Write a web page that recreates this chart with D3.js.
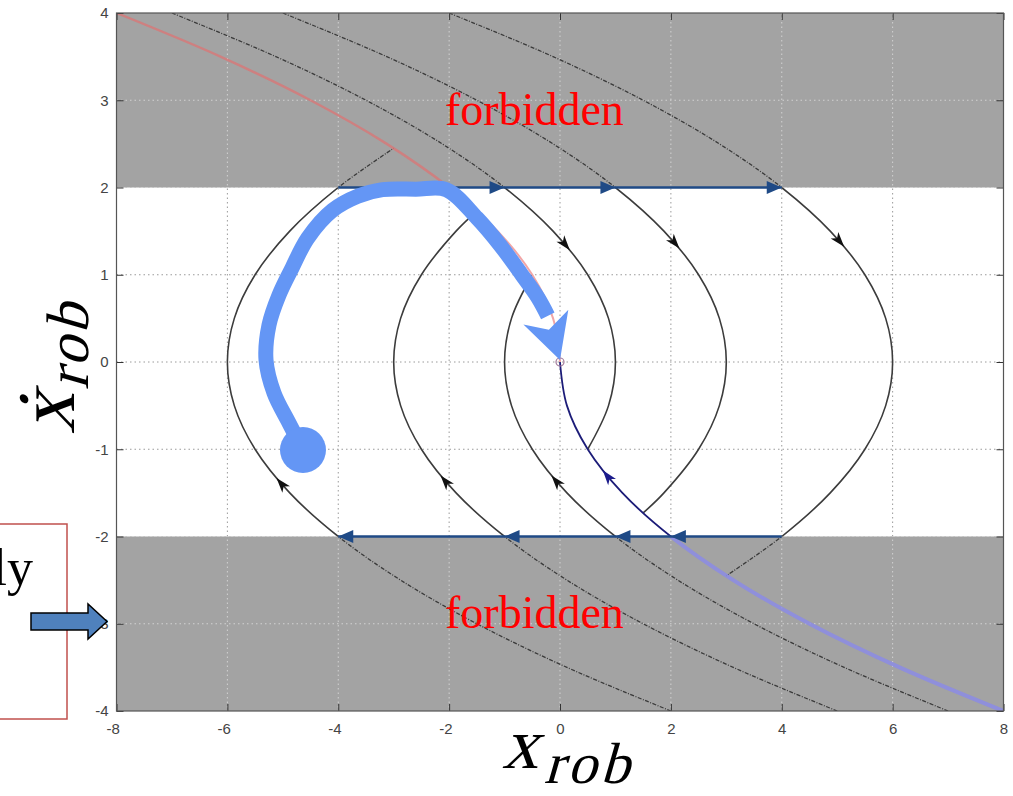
<!DOCTYPE html>
<html><head><meta charset="utf-8">
<script src="https://cdn.jsdelivr.net/npm/d3@7"></script>
<style>body{margin:0;background:#fff;} svg{display:block}</style>
</head><body>
<svg id="c" width="1013" height="796"></svg>
<script>
// ---- axes / ticks ----
const X_TICKS = [-8,-6,-4,-2,0,2,4,6,8];
const Y_TICKS = [-4,-3,-2,-1,0,1,2,3,4];
const FORBIDDEN_BANDS = [[2,4],[-4,-2]];
const ALLOWED_BAND = [-2,2];

// ---- phase trajectories [x, xdot] ----
// decelerating arcs (vertex on the right)
const DEC_1 = [[-7,4],[-5.125,3.5],[-3.5,3],[-2.125,2.5],[-1,2],[-0.125,1.5],[0.5,1],[0.875,0.5],[1,0],[0.875,-0.5],[0.5,-1]];
const DEC_3 = [[-5,4],[-3.125,3.5],[-1.5,3],[-0.125,2.5],[1,2],[1.875,1.5],[2.5,1],[2.875,0.5],[3,0],[2.875,-0.5],[2.5,-1],[1.875,-1.5],[1.5,-1.73]];
const DEC_6 = [[-2,4],[-0.125,3.5],[1.5,3],[2.875,2.5],[4,2],[4.875,1.5],[5.5,1],[5.875,0.5],[6,0],[5.875,-0.5],[5.5,-1],[4.875,-1.5],[4,-2],[3,-2.45]];
// accelerating arcs (vertex on the left)
const ACC_1 = [[7,-4],[5.125,-3.5],[3.5,-3],[2.125,-2.5],[1,-2],[0.125,-1.5],[-0.5,-1],[-0.875,-0.5],[-1,0],[-0.875,0.5],[-0.5,1]];
const ACC_3 = [[5,-4],[3.125,-3.5],[1.5,-3],[0.125,-2.5],[-1,-2],[-1.875,-1.5],[-2.5,-1],[-2.875,-0.5],[-3,0],[-2.875,0.5],[-2.5,1],[-1.875,1.5],[-1.5,1.73]];
const ACC_6 = [[2,-4],[0.125,-3.5],[-1.5,-3],[-2.875,-2.5],[-4,-2],[-4.875,-1.5],[-5.5,-1],[-5.875,-0.5],[-6,0],[-5.875,0.5],[-5.5,1],[-4.875,1.5],[-4,2],[-3,2.45]];
// switching curves
const SWITCH_RED = [[-8,4],[-6.125,3.5],[-4.5,3],[-3.125,2.5],[-2,2],[-1.125,1.5],[-0.5,1],[-0.125,0.5],[0,0]];
const SWITCH_BLUE = [[8,-4],[6.125,-3.5],[4.5,-3],[3.125,-2.5],[2,-2],[1.125,-1.5],[0.5,-1],[0.125,-0.5],[0,0]];

// arrow positions on the trajectories (xdot of arrow tip)
const CURVE_ARROWS = [["DEC_1",1.28],["DEC_3",1.3],["DEC_6",1.32],["ACC_1",-1.3],["ACC_3",-1.3],["ACC_6",-1.33],["SWITCH_BLUE",-1.24]];

// saturated-velocity segments and arrow tips on them
const TOP_LINE = [-4, 4], TOP_ARROWS = [-2, -1, 1, 4];
const BOT_LINE = [4, -4], BOT_ARROWS = [2, 1, -1, -4];

// highlighted trajectory (big blue arrow) and its head
const BIG_PATH = [[-4.636,-1.009],[-4.888,-0.699],[-5.159,-0.355],[-5.303,0.023],[-5.249,0.424],[-5.068,0.768],[-4.834,1.077],[-4.55,1.42],[-4.10,1.74],[-3.65,1.90],[-3.2,1.975],[-2.6,1.98],[-2.05,1.975],[-1.497,1.650],[-1.082,1.341],[-0.685,0.997],[-0.40,0.74],[-0.22,0.53]];
const BIG_HEAD = [[0,0.023],[-0.66,0.43],[-0.20,0.37],[0.15,0.60]];

const LABEL_FORBIDDEN = "forbidden";
const BOX_TEXT = "ly";

// ---------------------------------------------------------
const svg = d3.select('#c');
const x = d3.scaleLinear().domain([-8,8]).range([116.5,1003.5]);
const y = d3.scaleLinear().domain([-4,4]).range([711,13]);
const W = x(8)-x(-8);

const defs = svg.append('defs');
defs.append('clipPath').attr('id','cw').append('rect')
  .attr('x',x(-8)).attr('y',y(ALLOWED_BAND[1])).attr('width',W).attr('height',y(ALLOWED_BAND[0])-y(ALLOWED_BAND[1]));
const cg = defs.append('clipPath').attr('id','cg');
FORBIDDEN_BANDS.forEach(b=>cg.append('rect').attr('x',x(-8)).attr('y',y(b[1])).attr('width',W).attr('height',y(b[0])-y(b[1])));

// background bands
svg.append('rect').attr('x',x(-8)).attr('y',y(4)).attr('width',W).attr('height',y(-4)-y(4)).attr('fill','#fff');
FORBIDDEN_BANDS.forEach(b=>svg.append('rect').attr('x',x(-8)).attr('y',y(b[1])).attr('width',W).attr('height',y(b[0])-y(b[1])).attr('fill','#a3a3a3'));

// grid
function grid(clip, color){
  const g = svg.append('g').attr('clip-path',`url(#${clip})`).attr('stroke',color).attr('stroke-width',1).attr('stroke-dasharray','1.5,3');
  X_TICKS.slice(1,-1).forEach(t=>g.append('line').attr('x1',x(t)).attr('x2',x(t)).attr('y1',y(4)).attr('y2',y(-4)));
  Y_TICKS.slice(1,-1).forEach(t=>g.append('line').attr('y1',y(t)).attr('y2',y(t)).attr('x1',x(-8)).attr('x2',x(8)));
}
grid('cw','#9a9a9a');
grid('cg','#d2d2d2');

// curves
const line = d3.line().x(d=>x(d[0])).y(d=>y(d[1])).curve(d3.curveCatmullRom.alpha(0.5));
const CURVES = {DEC_1, DEC_3, DEC_6, ACC_1, ACC_3, ACC_6, SWITCH_RED, SWITCH_BLUE};
const styleW = {black:{s:'#3c3c3c',w:1.6}, red:{s:'#f2a6a6',w:2}, blue:{s:'#1c1c78',w:1.8}};
const styleG = {black:{s:'#3a3a3a',w:1.3,d:'4,1.5,1,1.5'}, red:{s:'#e07070',w:2.4,o:0.7}, blue:{s:'#8a8ae8',w:4,o:0.8}};
const kindOf = n => n==='SWITCH_RED'?'red':(n==='SWITCH_BLUE'?'blue':'black');
const pathNodes = {};
Object.entries(CURVES).forEach(([n,pts])=>{
  const k = kindOf(n);
  const sg = styleG[k];
  svg.append('path').attr('d',line(pts)).attr('clip-path','url(#cg)').attr('fill','none')
    .attr('stroke',sg.s).attr('stroke-width',sg.w).attr('stroke-dasharray',sg.d||null).attr('stroke-opacity',sg.o||1);
  const sw = styleW[k];
  pathNodes[n] = svg.append('path').attr('d',line(pts)).attr('clip-path','url(#cw)').attr('fill','none')
    .attr('stroke',sw.s).attr('stroke-width',sw.w).node();
});

// arrowheads on curves
CURVE_ARROWS.forEach(([n,v])=>{
  const p = pathNodes[n], L = p.getTotalLength(), ty = y(v);
  let best=0, bd=1e9;
  for(let l=0;l<=L;l+=0.5){ const q=p.getPointAtLength(l); const d=Math.abs(q.y-ty); if(d<bd){bd=d;best=l;} }
  const a = p.getPointAtLength(Math.max(0,best-3)), b = p.getPointAtLength(Math.min(L,best+3)), c = p.getPointAtLength(best);
  const ang = Math.atan2(b.y-a.y,b.x-a.x)*180/Math.PI;
  svg.append('path').attr('d','M0,0 L-15,-5 L-11,0 L-15,5 Z')
    .attr('fill', n==='SWITCH_BLUE'?'#1c1c8c':'#111')
    .attr('transform',`translate(${c.x},${c.y}) rotate(${ang})`);
});

// saturated velocity lines
const NAVY = '#1f4a86';
svg.append('line').attr('x1',x(TOP_LINE[0])).attr('x2',x(TOP_LINE[1])).attr('y1',y(2)).attr('y2',y(2)).attr('stroke',NAVY).attr('stroke-width',2.6);
svg.append('line').attr('x1',x(BOT_LINE[0])).attr('x2',x(BOT_LINE[1])).attr('y1',y(-2)).attr('y2',y(-2)).attr('stroke',NAVY).attr('stroke-width',2.6);
TOP_ARROWS.forEach(t=>svg.append('path').attr('d','M0,0 L-15,-6.5 L-15,6.5 Z').attr('fill',NAVY).attr('transform',`translate(${x(t)},${y(2)})`));
BOT_ARROWS.forEach(t=>svg.append('path').attr('d','M0,0 L-15,-6.5 L-15,6.5 Z').attr('fill',NAVY).attr('transform',`translate(${x(t)},${y(-2)}) rotate(180)`));

// origin marker
svg.append('circle').attr('cx',x(0)).attr('cy',y(0)).attr('r',4).attr('fill','none').attr('stroke','#a07898').attr('stroke-width',1.2);

// big blue highlighted trajectory
const BLUE = '#6496f5';
svg.append('path').attr('d',line(BIG_PATH)).attr('fill','none').attr('stroke',BLUE).attr('stroke-width',15).attr('stroke-linejoin','round');
svg.append('path').attr('d','M'+BIG_HEAD.map(d=>x(d[0])+','+y(d[1])).join('L')+'Z').attr('fill',BLUE);
svg.append('circle').attr('cx',x(BIG_PATH[0][0])).attr('cy',y(BIG_PATH[0][1])).attr('r',23).attr('fill',BLUE);

// forbidden labels
const serif = '"Liberation Serif", "Times New Roman", serif';
svg.append('text').attr('x',445).attr('y',y(2.72)).text(LABEL_FORBIDDEN)
  .style('font-family',serif).style('font-size','46px').attr('fill','#ff0000');
svg.append('text').attr('x',445).attr('y',y(-3.05)).text(LABEL_FORBIDDEN)
  .style('font-family',serif).style('font-size','46px').attr('fill','#ff0000');

// axes (ticks inward)
const tickFont = g=>g.selectAll('text').style('font-family','"Liberation Sans", Arial, sans-serif').style('font-size','15px').attr('fill','#444');
const fmt = d=>String(d);
const ax = svg.append('g');
ax.append('g').attr('transform',`translate(0,${y(-4)})`).call(d3.axisBottom(x).tickValues(X_TICKS).tickSize(-7).tickPadding(12).tickFormat(fmt))
  .call(g=>{g.select('.domain').remove(); g.selectAll('line').attr('stroke','#333'); g.selectAll('text').attr('dx',d=>d<0?'-0.25em':0);}).call(tickFont);
ax.append('g').attr('transform',`translate(0,${y(4)})`).call(d3.axisTop(x).tickValues(X_TICKS).tickSize(-7).tickFormat(''))
  .call(g=>{g.select('.domain').remove(); g.selectAll('line').attr('stroke','#333');});
ax.append('g').attr('transform',`translate(${x(-8)},0)`).call(d3.axisLeft(y).tickValues(Y_TICKS).tickSize(-7).tickPadding(8).tickFormat(fmt))
  .call(g=>{g.select('.domain').remove(); g.selectAll('line').attr('stroke','#333');}).call(tickFont);
ax.append('g').attr('transform',`translate(${x(8)},0)`).call(d3.axisRight(y).tickValues(Y_TICKS).tickSize(-7).tickFormat(''))
  .call(g=>{g.select('.domain').remove(); g.selectAll('line').attr('stroke','#333');});
svg.append('rect').attr('x',x(-8)).attr('y',y(4)).attr('width',W).attr('height',y(-4)-y(4)).attr('fill','none').attr('stroke','#555').attr('stroke-width',1.2);

// axis titles (math-style: serif, slanted)
const xt = svg.append('text').attr('transform','translate(502,768) skewX(-16)').style('font-family',serif);
xt.append('tspan').text('x').style('font-family',serif).style('font-size','72px');
xt.append('tspan').text('rob').style('font-family',serif).style('font-size','58px').style('letter-spacing','4px').attr('dx',10).attr('dy',15);
const yt = svg.append('text').attr('transform','translate(74,434) rotate(-90) skewX(-16)').style('font-family',serif);
yt.append('tspan').text('ẋ').style('font-family',serif).style('font-size','82px');
yt.append('tspan').text('rob').style('font-family',serif).style('font-size','60px').style('letter-spacing','3px').attr('dx',7).attr('dy',14);

// left annotation box and block arrow
svg.append('rect').attr('x',-5).attr('y',524).attr('width',72).attr('height',195).attr('fill','none').attr('stroke','#c0504d').attr('stroke-width',1.5);
svg.append('text').attr('x',33).attr('y',585).attr('text-anchor','end').text(BOX_TEXT)
  .style('font-family',serif).style('font-size','52px').attr('fill','#000');
svg.append('path').attr('d','M31,613 L88,613 L88,604 L107,621.5 L88,639 L88,630 L31,630 Z').attr('fill','#4f81bd').attr('stroke','#000').attr('stroke-width',1.5);
</script>
</body></html>
